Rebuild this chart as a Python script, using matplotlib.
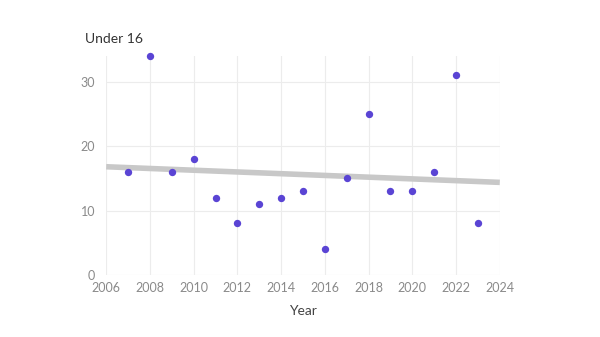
import numpy as np
import matplotlib.pyplot as plt

plt.rcParams["font.family"] = ["Lato", "DejaVu Sans"]

years = [2007, 2008, 2009, 2010, 2011, 2012, 2013, 2014, 2015,
         2016, 2017, 2018, 2019, 2020, 2021, 2022, 2023]
counts = [16, 34, 16, 18, 12, 8, 11, 12, 13, 4, 15, 25, 13, 13, 16, 31, 8]
x_ticks = [2006, 2008, 2010, 2012, 2014, 2016, 2018, 2020, 2022, 2024]
y_ticks = [0, 10, 20, 30]

fig = plt.figure(figsize=(6, 3.37), dpi=100)
ax = fig.add_axes([0.177, 0.184, 0.656, 0.65])

# trend line from a least-squares fit of the data
slope, icept = np.polyfit(years, counts, 1)
tx = np.array([2006, 2024])
ax.plot(tx, slope * tx + icept, color="#c8c8c8", lw=4, zorder=2,
        solid_capstyle="butt")

ax.scatter(years, counts, s=28, color="#5a44d4", zorder=3, linewidths=0,
           clip_on=False)

ax.set_xlim(2006, 2024)
ax.set_ylim(0, 34)
ax.set_xticks(x_ticks)
ax.set_yticks(y_ticks)
ax.grid(True, color="#ececec", lw=0.8)
ax.set_axisbelow(True)
for s in ax.spines.values():
    s.set_visible(False)
ax.tick_params(length=0, colors="#8a8a8a", labelsize=9)
ax.tick_params(axis="x", pad=5)
ax.tick_params(axis="y", pad=8)

ax.set_xlabel("Year", fontsize=10, color="#444444", labelpad=8)
fig.text(0.142, 0.885, "Under 16", fontsize=10, color="#333333",
         ha="left", va="center")

fig.savefig("out.png", dpi=100, facecolor="white")
